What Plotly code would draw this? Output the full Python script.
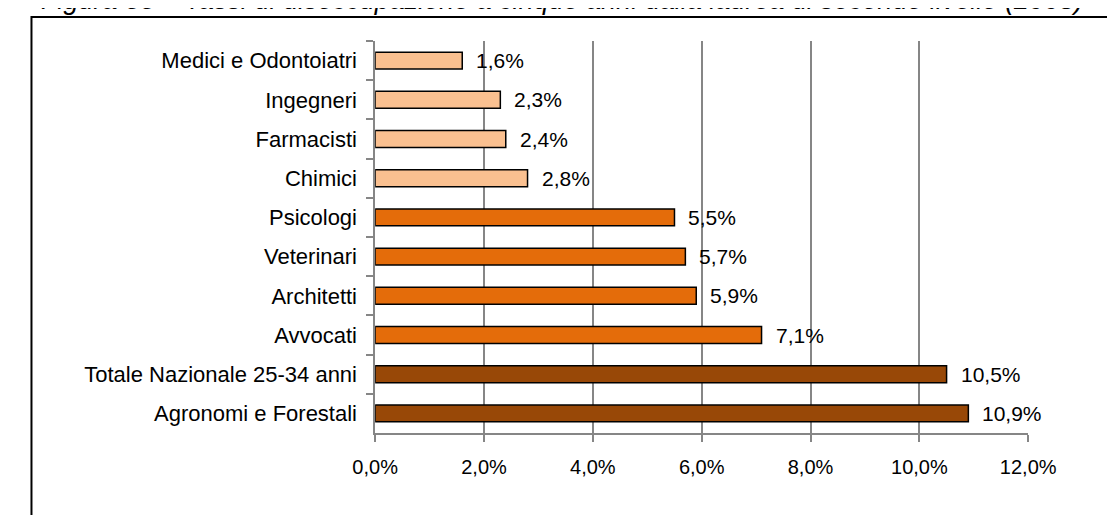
import plotly.graph_objects as go

categories = ["Medici e Odontoiatri", "Ingegneri", "Farmacisti", "Chimici", "Psicologi",
              "Veterinari", "Architetti", "Avvocati", "Totale Nazionale 25-34 anni",
              "Agronomi e Forestali"]
values = [1.6, 2.3, 2.4, 2.8, 5.5, 5.7, 5.9, 7.1, 10.5, 10.9]
bar_colors = ["#FAC090"] * 4 + ["#E46C0A"] * 4 + ["#984807"] * 2
x_ticks = [0, 2, 4, 6, 8, 10, 12]
x_tick_labels = ["0,0%", "2,0%", "4,0%", "6,0%", "8,0%", "10,0%", "12,0%"]
value_labels = ["1,6%", "2,3%", "2,4%", "2,8%", "5,5%", "5,7%", "5,9%", "7,1%", "10,5%", "10,9%"]
title_text = "Figura 33 – Tassi di disoccupazione a cinque anni dalla laurea di secondo livello (2008)"

W, H = 1115, 515
FONT = "Liberation Sans, Arial, sans-serif"

fig = go.Figure(go.Bar(
    x=values, y=categories, orientation="h",
    marker=dict(color=bar_colors, line=dict(color="black", width=1.5)),
    width=0.43, hoverinfo="x+y",
))

for cat, v, lab in zip(categories, values, value_labels):
    fig.add_annotation(x=v, y=cat, xref="x", yref="y", text=lab, showarrow=False,
                       xanchor="left", yanchor="middle", xshift=12,
                       font=dict(family=FONT, size=21, color="black"))

fig.update_layout(
    width=W, height=H, margin=dict(l=0, r=0, t=0, b=0),
    paper_bgcolor="white", plot_bgcolor="white",
    showlegend=False,
    font=dict(family=FONT, size=20, color="black"),
    xaxis=dict(domain=[361 / W, 1046 / W], range=[0, 12], tickvals=x_ticks,
               ticktext=x_tick_labels, showgrid=True, gridcolor="#868686",
               gridwidth=1.5, showline=True, linecolor="#868686", linewidth=1.5,
               ticks="outside", ticklen=7, tickcolor="#868686", tickwidth=1.5,
               zeroline=False, tickfont=dict(size=20), ticklabelstandoff=8),
    yaxis=dict(domain=[1 - 425 / H, 1 - 33 / H], categoryorder="array",
               categoryarray=categories, autorange="reversed", showline=True,
               linecolor="#868686", linewidth=1.5, ticks="outside", ticklen=7,
               tickcolor="#868686", tickwidth=1.5, tickson="boundaries",
               showgrid=False, tickfont=dict(size=22), ticklabelstandoff=12),
)

fig.add_shape(type="rect", xref="paper", yref="paper",
              x0=0.5 / W, x1=1.05, y0=-0.1, y1=1 - 9 / H,
              line=dict(color="black", width=2), fillcolor="rgba(0,0,0,0)")

fig.add_annotation(text=f"<i>{title_text}</i>", xref="paper", yref="paper",
                   x=8 / W, y=1 + 8 / H, xanchor="left", yanchor="middle",
                   showarrow=False, font=dict(family=FONT, size=27, color="black"))

fig.write_html("out.html")
